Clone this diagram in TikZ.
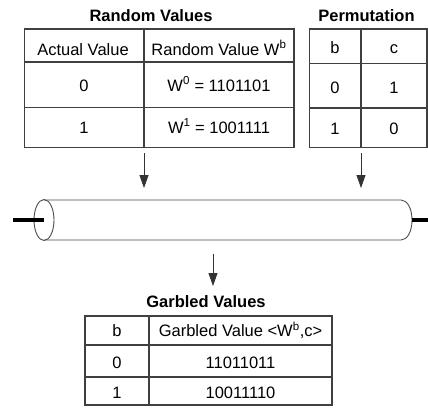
\documentclass[tikz,border=0pt]{standalone}
\usepackage{fontspec}
\setmainfont{Liberation Sans}
\usetikzlibrary{arrows.meta}
\tikzset{
  grid/.style={draw=black!75, line width=1.1pt},
  cell/.style={anchor=base, inner sep=0pt, font=\fontsize{16.5}{19}\selectfont},
  title/.style={anchor=base, inner sep=0pt, font=\fontsize{16.5}{19}\selectfont\bfseries},
  flow/.style={draw=black!80, line width=0.9pt, -{Triangle[length=13pt,width=9pt]}},
  pipe/.style={draw=black!70, line width=0.9pt},
  stub/.style={draw=black, line width=3.2pt},
}
\begin{document}
\begin{tikzpicture}[x=1pt,y=-1pt]
\useasboundingbox (0,0) rectangle (428,408);

% ---- Random Values table ----
\node[title] (rvT) at (151,21) {Random Values};
\draw[grid] (24.5,29) rectangle (294,147.5);
\draw[grid] (144,29) -- (144,147.5);
\draw[grid] (24.5,62) -- (294,62);
\draw[grid] (24.5,107.5) -- (294,107.5);
\node[cell] (rvA) at (83,55) {Actual Value};
\node[cell] (rvB) at (219,55) {Random Value W\textsuperscript{b}};
\node[cell] (rv0) at (84,91) {0};
\node[cell] (rvW0) at (219,91) {W\textsuperscript{0} = 1101101};
\node[cell] (rv1) at (84,133) {1};
\node[cell] (rvW1) at (219,133) {W\textsuperscript{1} = 1001111};
\coordinate (rvOut) at (144,153);

% ---- Permutation table ----
\node[title] (pmT) at (366.5,21) {Permutation};
\draw[grid] (309.5,29) rectangle (427,147.5);
\draw[grid] (361,29) -- (361,147.5);
\draw[grid] (309.5,63.5) -- (427,63.5);
\draw[grid] (309.5,108) -- (427,108);
\node[cell] (pmB) at (335,53) {b};
\node[cell] (pmC) at (394,53) {c};
\node[cell] (pm0) at (335,93) {0};
\node[cell] (pm1) at (394,93) {1};
\node[cell] (pm2) at (335,134) {1};
\node[cell] (pm3) at (394,134) {0};
\coordinate (pmOut) at (361,153);

% ---- cylinder (garbling channel) ----
\coordinate (cylL) at (44,220);
\coordinate (capR) at (412,220);
\draw[pipe] (44,200) -- (401,200)
  .. controls (407,200) and (412,208) .. (capR)
  .. controls (412,232) and (407,240) .. (401,240) -- (44,240);
\draw[pipe] (cylL) ellipse[x radius=10pt, y radius=20.5pt];
\coordinate (inL) at (13,220);
\coordinate (outR) at (428,220);
\draw[stub] (inL) -- (cylL);
\draw[stub] (capR) -- (outR);
\coordinate (rvIn) at (144,188);
\coordinate (pmIn) at (361,188);
\draw[flow] (rvOut) -- (rvIn);
\draw[flow] (pmOut) -- (pmIn);
\coordinate (gvOut) at (213,254);
\coordinate (gvIn) at (213,286);
\draw[flow] (gvOut) -- (gvIn);

% ---- Garbled Values table ----
\node[title] (gvT) at (206,307.5) {Garbled Values};
\draw[grid] (85,316) rectangle (332,405);
\draw[grid] (149,316) -- (149,405);
\draw[grid] (85,345) -- (332,345);
\draw[grid] (85,377) -- (332,377);
\node[cell] (gvB) at (117,336.5) {b};
\node[cell] (gvV) at (240.5,336.5) {Garbled Value <W\textsuperscript{b},c>};
\node[cell] (gv0) at (117,368) {0};
\node[cell] (gvW0) at (240.5,368) {11011011};
\node[cell] (gv1) at (117,398) {1};
\node[cell] (gvW1) at (240.5,398) {10011110};
\end{tikzpicture}
\end{document}
